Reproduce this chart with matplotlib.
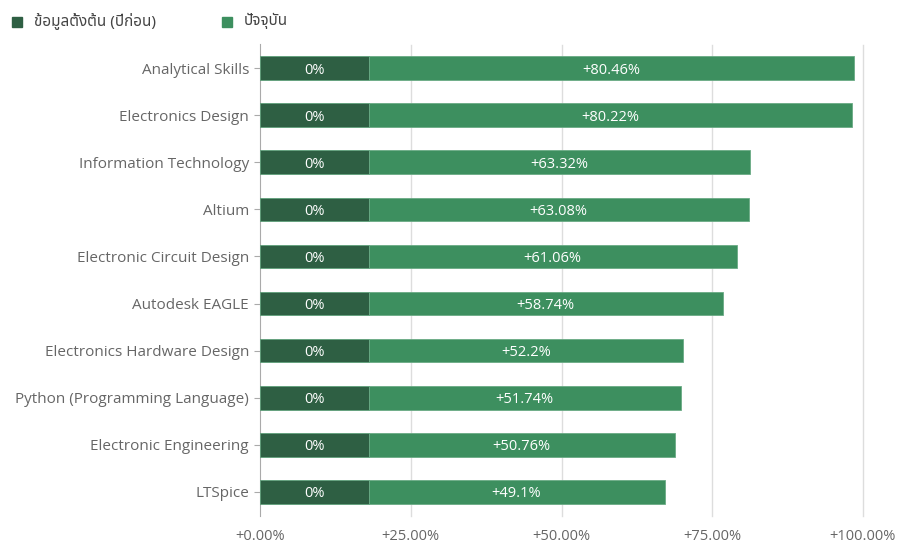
import matplotlib.pyplot as plt
from matplotlib.patches import Rectangle

skills = ["Analytical Skills", "Electronics Design", "Information Technology", "Altium",
          "Electronic Circuit Design", "Autodesk EAGLE", "Electronics Hardware Design",
          "Python (Programming Language)", "Electronic Engineering", "LTSpice"]
baseline = [18, 18, 18, 18, 18, 18, 18, 18, 18, 18]
baseline_labels = ["0%"] * 10
growth = [80.46, 80.22, 63.32, 63.08, 61.06, 58.74, 52.2, 51.74, 50.76, 49.1]
growth_labels = ["+80.46%", "+80.22%", "+63.32%", "+63.08%", "+61.06%", "+58.74%",
                 "+52.2%", "+51.74%", "+50.76%", "+49.1%"]
xticks = [0, 25, 50, 75, 100]
xtick_labels = ["+0.00%", "+25.00%", "+50.00%", "+75.00%", "+100.00%"]
legend_names = ["ข้อมูลตั้งต้น (ปีก่อน)", "ปัจจุบัน"]

dark = "#2e5f43"
light = "#3d8f5f"
fams = ["Open Sans", "Noto Sans", "DejaVu Sans"]
thai_fams = ["Noto Sans Thai", "Loma", "Garuda", "Tlwg Typo", "Norasi", "Waree",
             "Noto Sans", "DejaVu Sans"]
plt.rcParams["font.family"] = fams

fig = plt.figure(figsize=(9.02, 5.43), dpi=100)
ax = fig.add_axes([260 / 902, 27.5 / 543, 603 / 902, 471 / 543])

y = list(range(len(skills)))
ax.barh(y, baseline, height=0.5, color=dark, edgecolor="#5fa07a", linewidth=0.6, zorder=3)
ax.barh(y, growth, left=baseline, height=0.5, color=light, edgecolor="#6aab85",
        linewidth=0.6, zorder=3)
for i in y:
    ax.text(baseline[i] / 2, i, baseline_labels[i], ha="center", va="center_baseline",
            color="white", fontsize=10.5, zorder=4)
    ax.text(baseline[i] + growth[i] / 2, i, growth_labels[i], ha="center",
            va="center_baseline", color="white", fontsize=10.5, zorder=4)

ax.set_xlim(0, 100)
ax.set_ylim(len(skills) - 0.5, -0.5)
ax.set_yticks(y)
ax.set_yticklabels(skills, fontsize=11, color="#666666")
ax.set_xticks(xticks)
ax.set_xticklabels(xtick_labels, fontsize=10.5, color="#666666")
ax.tick_params(axis="x", length=0, pad=10)
ax.tick_params(axis="y", length=4, color="#aaaaaa", pad=4)
for s in ["top", "right", "bottom"]:
    ax.spines[s].set_visible(False)
ax.spines["left"].set_color("#aaaaaa")
ax.grid(axis="x", color="#dddddd", linewidth=1, zorder=0)
ax.xaxis.get_gridlines()[0].set_visible(False)
for gl in ax.xaxis.get_gridlines():
    gl.set_clip_on(False)

# legend
for x0, name, c in [(12, legend_names[0], dark), (222, legend_names[1], light)]:
    fig.patches.append(Rectangle((x0 / 902, 1 - 27 / 543), 10 / 902, 10 / 543,
                                 transform=fig.transFigure, color=c))
    fig.text((x0 + 22) / 902, 1 - 21 / 543, name, fontsize=11, color="#444444",
             va="center", ha="left", family=thai_fams)

fig.savefig("out.png", dpi=100)
